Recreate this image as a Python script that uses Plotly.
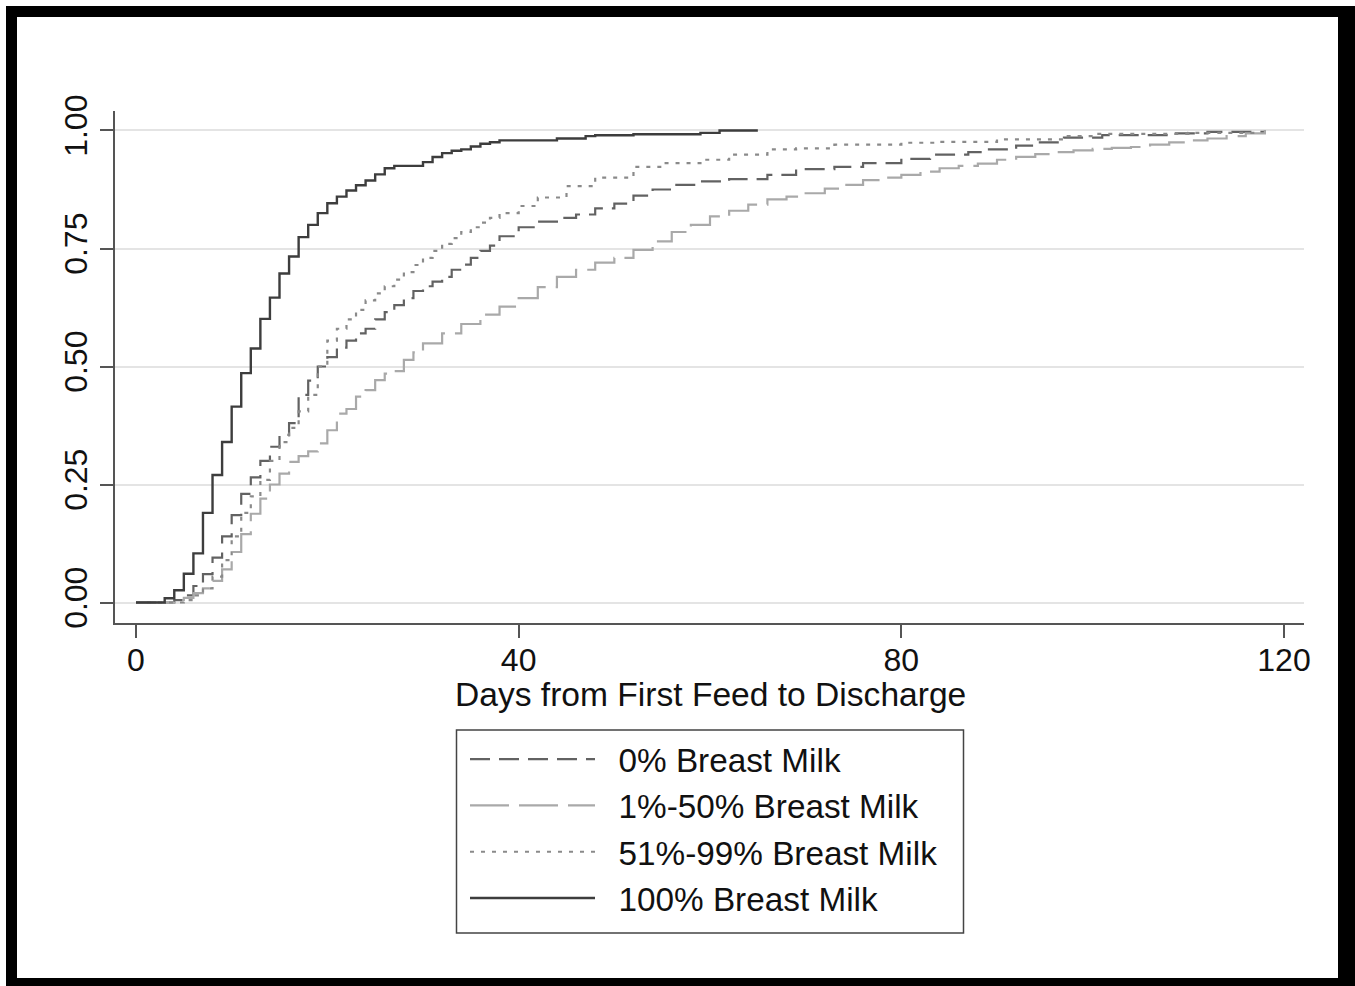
import plotly.graph_objects as go

# ---------------- data ----------------
series_names = ["0% Breast Milk", "1%-50% Breast Milk", "51%-99% Breast Milk", "100% Breast Milk"]

days_0 = [0, 4, 5, 6, 7, 8, 9, 10, 11, 12, 13, 14, 15, 16, 17, 18, 19, 20, 21, 22, 23, 24, 25, 26, 27, 28, 29,
          30, 31, 32, 33, 34, 35, 36, 37, 38, 40, 42, 44, 46, 48, 50, 52, 54, 56, 59, 62, 66, 69, 73, 76, 80,
          83, 87, 89, 92, 94, 97, 101, 108, 112, 118]
vals_0 = [0, 0.005, 0.015, 0.035, 0.06, 0.095, 0.14, 0.185, 0.23, 0.265, 0.30, 0.33, 0.355, 0.38, 0.44, 0.47,
          0.50, 0.52, 0.54, 0.555, 0.57, 0.58, 0.60, 0.615, 0.63, 0.645, 0.66, 0.67, 0.68, 0.69, 0.705, 0.716,
          0.73, 0.745, 0.756, 0.776, 0.795, 0.807, 0.815, 0.822, 0.835, 0.845, 0.862, 0.875, 0.885, 0.892,
          0.897, 0.906, 0.918, 0.923, 0.931, 0.94, 0.949, 0.954, 0.96, 0.968, 0.975, 0.985, 0.99, 0.994,
          0.997, 1.0]

days_1_50 = [0, 4, 5, 6, 7, 8, 9, 10, 11, 12, 13, 14, 15, 16, 17, 18, 19, 20, 21, 22, 23, 24, 25, 26, 27, 28,
             29, 30, 32, 34, 36, 38, 40, 42, 44, 46, 48, 50, 52, 54, 56, 58, 60, 62, 64, 66, 68, 70, 72, 74,
             76, 78, 80, 82, 84, 86, 88, 90, 92, 94, 96, 98, 100, 102, 104, 106, 108, 110, 112, 114, 116, 118]
vals_1_50 = [0, 0.005, 0.01, 0.02, 0.03, 0.046, 0.07, 0.107, 0.145, 0.188, 0.22, 0.25, 0.273, 0.298, 0.31,
             0.32, 0.337, 0.365, 0.40, 0.41, 0.436, 0.45, 0.471, 0.485, 0.49, 0.514, 0.53, 0.549, 0.57, 0.59,
             0.61, 0.627, 0.645, 0.668, 0.69, 0.705, 0.72, 0.73, 0.747, 0.765, 0.785, 0.80, 0.818, 0.83,
             0.843, 0.854, 0.86, 0.867, 0.877, 0.885, 0.895, 0.90, 0.906, 0.913, 0.92, 0.925, 0.93, 0.938,
             0.944, 0.95, 0.954, 0.958, 0.961, 0.963, 0.965, 0.97, 0.975, 0.979, 0.983, 0.988, 0.994, 1.0]

days_51_99 = [0, 5, 6, 7, 8, 9, 10, 11, 12, 13, 14, 15, 16, 17, 18, 19, 20, 21, 22, 23, 24, 25, 26, 27, 28, 29,
              30, 31, 32, 33, 34, 35, 36, 37, 38, 40, 42, 45, 48, 52, 55, 59, 62, 66, 69, 73, 80, 84, 90, 97,
              100, 110, 117]
vals_51_99 = [0, 0.005, 0.015, 0.03, 0.055, 0.09, 0.14, 0.19, 0.225, 0.26, 0.30, 0.34, 0.37, 0.405, 0.44,
              0.50, 0.555, 0.58, 0.60, 0.62, 0.64, 0.655, 0.67, 0.684, 0.70, 0.715, 0.73, 0.745, 0.76, 0.772,
              0.785, 0.795, 0.805, 0.815, 0.825, 0.84, 0.858, 0.882, 0.90, 0.923, 0.931, 0.938, 0.949, 0.96,
              0.962, 0.97, 0.974, 0.976, 0.981, 0.988, 0.993, 0.995, 1.0]

days_100 = [0, 3, 4, 5, 6, 7, 8, 9, 10, 11, 12, 13, 14, 15, 16, 17, 18, 19, 20, 21, 22, 23, 24, 25, 26, 27,
            30, 31, 32, 33, 34, 35, 36, 37, 38, 44, 47, 48, 52, 59, 61, 65]
vals_100 = [0, 0.009, 0.026, 0.061, 0.104, 0.19, 0.27, 0.34, 0.415, 0.486, 0.538, 0.601, 0.646, 0.697, 0.733,
            0.774, 0.80, 0.825, 0.846, 0.86, 0.873, 0.884, 0.894, 0.907, 0.92, 0.925, 0.933, 0.944, 0.952,
            0.957, 0.96, 0.966, 0.972, 0.975, 0.979, 0.983, 0.988, 0.99, 0.992, 0.995, 1.0, 1.0]

x_ticks = [0, 40, 80, 120]
y_ticks = [0, 0.25, 0.5, 0.75, 1.0]
x_title = "Days from First Feed to Discharge"

# ---------------- figure ----------------
FONT = "Liberation Sans, Arial, Helvetica, sans-serif"
NB = "\u00a0"
styles = [
    dict(color="#626262", dash="20px,9px", width=2.2),
    dict(color="#a9a9a9", dash="39px,10px", width=2.2),
    dict(color="#8a8a8a", dash="4px,7px", width=2.2),
    dict(color="#3d3d3d", dash="solid", width=2.4),
]
data = [(days_0, vals_0), (days_1_50, vals_1_50), (days_51_99, vals_51_99), (days_100, vals_100)]

fig = go.Figure()
for name, (xs, ys), st in zip(series_names, data, styles):
    fig.add_trace(go.Scatter(x=xs, y=ys, mode="lines", name=NB * 2 + name,
                             line_shape="hv", line=st, legendgroup=name))

L, R, T, B = 115, 1304, 111, 623
W, H = 1355, 986
pw, ph = R - L, B - T


def px_x(p):
    return (p - L) / pw


def px_y(p):
    return (B - p) / ph


shapes = []
# thick black outer frame
for (x0, y0, x1, y1) in [(6, 6, 17, 986), (6, 6, 1355, 17), (1338, 6, 1355, 986), (6, 978, 1355, 986)]:
    shapes.append(dict(type="rect", xref="paper", yref="paper",
                       x0=px_x(x0), x1=px_x(x1), y0=px_y(y1), y1=px_y(y0),
                       fillcolor="black", line=dict(width=0), layer="above"))
# legend box
shapes.append(dict(type="rect", xref="paper", yref="paper",
                   x0=px_x(456.5), x1=px_x(963.5), y0=px_y(933), y1=px_y(730),
                   fillcolor="rgba(0,0,0,0)", line=dict(color="#444444", width=1.5), layer="above"))

annotations = [dict(text=x_title, xref="paper", yref="paper", x=px_x(710), y=px_y(694),
                    xanchor="center", yanchor="middle", showarrow=False,
                    font=dict(size=33.6, family=FONT, color="#111111"))]

fig.update_layout(
    width=W, height=H,
    margin=dict(l=L, r=W - R, t=T, b=H - B, pad=0),
    paper_bgcolor="white", plot_bgcolor="white",
    font=dict(family=FONT, size=33, color="#111111"),
    showlegend=True,
    legend=dict(x=px_x(465), y=px_y(731), xanchor="left", yanchor="top",
                bgcolor="rgba(0,0,0,0)", borderwidth=0,
                font=dict(size=33.3, family=FONT, color="#111111"),
                itemwidth=125, tracegroupgap=5, traceorder="normal"),
    shapes=shapes,
    annotations=annotations,
    xaxis=dict(range=[-2.195, 122.09], tickvals=x_ticks, ticktext=[str(v) for v in x_ticks],
               showgrid=False, zeroline=False, showline=True, linecolor="#555555", linewidth=1.5,
               ticks="outside", ticklen=13, tickwidth=1.5, tickcolor="#555555", ticklabelstandoff=-5,
               tickfont=dict(size=32, family=FONT, color="#111111")),
    yaxis=dict(range=[-0.0434, 1.0413], tickvals=y_ticks, tickformat=".2f",
               showgrid=True, gridcolor="#e4e4e4", gridwidth=2, zeroline=False,
               showline=True, linecolor="#555555", linewidth=1.5,
               ticks="outside", ticklen=13, tickwidth=1.5, tickcolor="#555555",
               tickangle=-90, tickfont=dict(size=32, family=FONT, color="#111111")),
)

fig.write_html("out.html", config={"displayModeBar": False},
               post_script="document.body.style.margin='0px';document.body.style.overflow='hidden';")
